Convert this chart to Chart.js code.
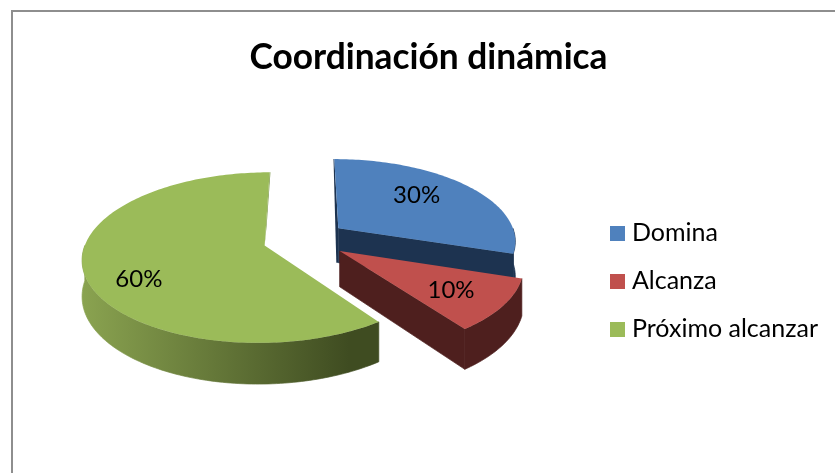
<!DOCTYPE html>
<html><head><meta charset="utf-8">
<style>html,body{margin:0;padding:0;background:#fff}#w{width:835px;height:473px;position:relative}</style>
<script src="https://cdn.jsdelivr.net/npm/chart.js@4"></script>
</head><body><div id="w"><canvas id="c"></canvas></div>
<script>
const categories = ['Domina','Alcanza','Próximo alcanzar'];
const values = [30,10,60];
const labelsText = ['30%','10%','60%'];
const colors = ['#4F81BD','#C0504D','#9BBB59'];
const wallDark = ['#1D3350','#4E1F1E','#3F4C21'];
const wallLight = ['#1D3350','#4E1F1E','#8AA350'];
const sliver = ['#1D3350',null,'#7C9747'];
const titleText = 'Coordinación dinámica';

// oblique projection of the pie plane (perspective tilt)
const TILT=0.46, PERSP=0.14, DEPTH=35, PCX=305, PCY=239.5;
const LABEL_R=[0.6,0.7,0.7], LABEL_NUDGE=[[-1,-7],[0,2],[-1,15]];
const proj=(arc,ax,ay,z=0)=>{
  const s=1/(1-PERSP*ay/arc.outerRadius);
  return [PCX+ax*s, PCY+ay*TILT*s+z*s];
};
function centerOf(arc){const m=(arc.startAngle+arc.endAngle)/2,o=arc.options.offset||0;return [Math.cos(m)*o,Math.sin(m)*o];}
function pt(arc,a,r,z){const c=centerOf(arc);return proj(arc,c[0]+r*Math.cos(a),c[1]+r*Math.sin(a),z);}
function arcPts(arc,a0,a1,r,z){const n=Math.max(2,Math.ceil(Math.abs(a1-a0)/0.02)),out=[];for(let i=0;i<=n;i++)out.push(pt(arc,a0+(a1-a0)*i/n,r,z));return out;}
function fillPts(ctx,pts,fill,seal){ctx.beginPath();pts.forEach((p,i)=>i?ctx.lineTo(p[0],p[1]):ctx.moveTo(p[0],p[1]));ctx.closePath();ctx.fillStyle=fill;ctx.fill();
  if(seal){ctx.strokeStyle=fill;ctx.lineWidth=0.7;ctx.stroke();}}
function swatch(color){const c=document.createElement('canvas');c.width=15;c.height=15;const x=c.getContext('2d');x.fillStyle=color;x.fillRect(0,0,15,15);return c;}
const swatches=colors.map(swatch);

const pie3d={id:'pie3d',
  beforeDraw(chart){const c=chart.ctx;c.save();c.fillStyle='#fff';c.fillRect(0,0,chart.width,chart.height);
    c.fillStyle='#8E8E8E';c.fillRect(11,10,824,2);c.fillRect(11,10,2,463);c.restore();},
  beforeDatasetDraw(chart,args){
    const ctx=chart.ctx,arcs=chart.getDatasetMeta(args.index).data;
    ctx.save();
    [0,1,2].forEach(i=>{
      const arc=arcs[i],a0=arc.startAngle,a1=arc.endAngle,r=arc.outerRadius;
      // thin back edge seen through the perspective
      if(sliver[i]){
        const a=i===0?a0:a1,dir=i===0?-2:2,p=pt(arc,a,r,0),q=pt(arc,a,0,0),zq=pt(arc,a,0,i===0?DEPTH:0);
        fillPts(ctx,[p,q,zq,[zq[0]+dir,zq[1]-(i===0?0:20)],[p[0]+dir*0.4,p[1]]],sliver[i]);
      }
      // radial wall facing the viewer
      [[a0,1],[a1,-1]].forEach(([a,sg])=>{
        if(-sg*Math.cos(a)>0.001){
          const p=pt(arc,a,r,0),q=pt(arc,a,0,0),p2=pt(arc,a,r,DEPTH),q2=pt(arc,a,0,DEPTH);
          fillPts(ctx,[q,p,p2,q2],wallDark[i],true);
        }
      });
      // outer wall, front half only
      const vis=[];
      for(const k of [-1,0,1]){const lo=Math.max(a0,k*2*Math.PI),hi=Math.min(a1,k*2*Math.PI+Math.PI);if(hi>lo)vis.push([lo,hi]);}
      vis.forEach(([lo,hi])=>{
        const top=arcPts(arc,lo,hi,r,0),bot=arcPts(arc,hi,lo,r,DEPTH);
        const xs=top.map(p=>p[0]);
        const g=ctx.createLinearGradient(Math.max(...xs),0,Math.min(...xs),0);
        g.addColorStop(0,wallDark[i]);g.addColorStop(i===2?0.1:0,wallDark[i]);g.addColorStop(1,wallLight[i]);
        fillPts(ctx,top.concat(bot),g,true);
      });
      // top face
      fillPts(ctx,[pt(arc,a0,0,0)].concat(arcPts(arc,a0,a1,r,0)),colors[i]);
    });
    // data labels
    ctx.fillStyle='#000';ctx.textAlign='center';ctx.textBaseline='middle';ctx.font='24px Lato';
    arcs.forEach((arc,i)=>{const m=(arc.startAngle+arc.endAngle)/2,p=pt(arc,m,arc.outerRadius*LABEL_R[i],0);
      ctx.fillText(labelsText[i],p[0]+LABEL_NUDGE[i][0],p[1]+LABEL_NUDGE[i][1]);});
    ctx.restore();
    return false;
  }
};

new Chart(document.getElementById('c'),{
  type:'pie',
  data:{labels:categories,datasets:[{data:values,backgroundColor:colors,borderWidth:0,offset:[42,42,42]}]},
  plugins:[pie3d],
  options:{responsive:true,maintainAspectRatio:false,animation:false,radius:178,
    layout:{padding:{left:29,right:7,top:36,bottom:0}},
    plugins:{
      tooltip:{enabled:false},
      title:{display:true,text:titleText,color:'#000',font:{family:'Lato',size:35.3,weight:'bold'},padding:{top:0,bottom:11}},
      legend:{position:'right',fullSize:false,labels:{color:'#000',font:{family:'Lato',size:25},usePointStyle:true,pointStyleWidth:4,boxHeight:15,padding:23,
        generateLabels(chart){return categories.map((t,i)=>({text:t,fillStyle:colors[i],strokeStyle:colors[i],lineWidth:0,index:i,hidden:false,pointStyle:swatches[i]}));}}}
    }}
});
</script></body></html>
